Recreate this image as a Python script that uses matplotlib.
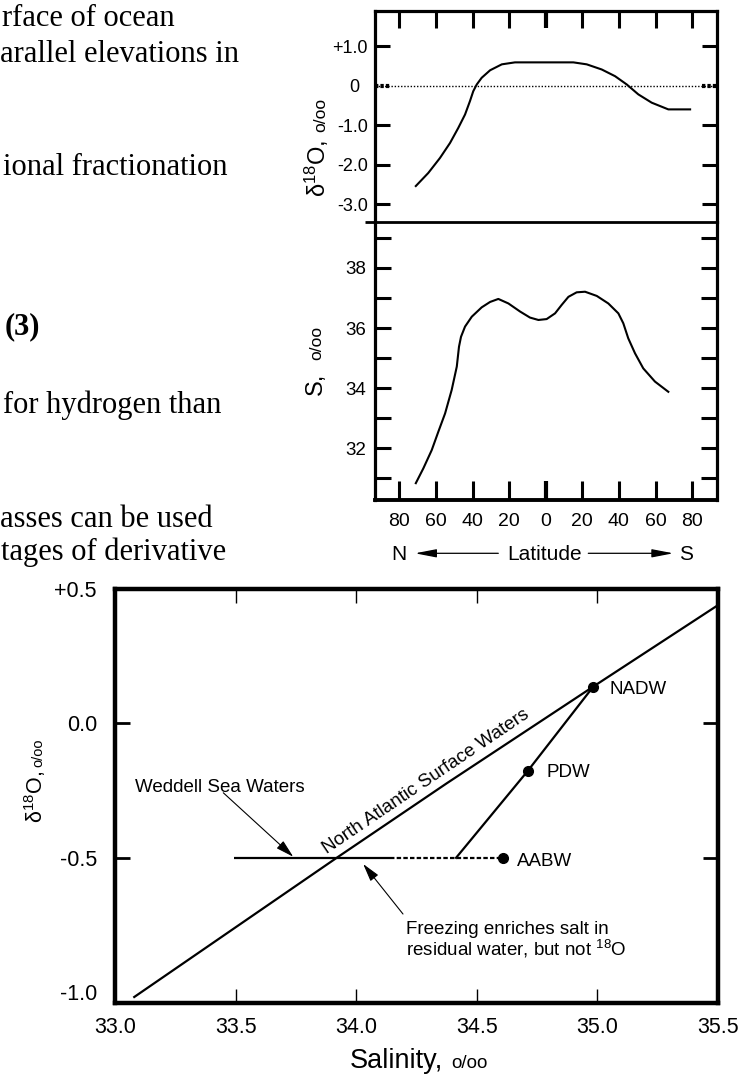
import matplotlib
matplotlib.use('Agg')
import matplotlib.pyplot as plt
import matplotlib.transforms as mtrans
import numpy as np

plt.rcParams['font.family'] = ['Liberation Sans', 'DejaVu Sans']
plt.rcParams['mathtext.fontset'] = 'custom'
plt.rcParams['mathtext.rm'] = 'Liberation Sans'
plt.rcParams['mathtext.it'] = 'Liberation Sans:italic'
plt.rcParams['mathtext.bf'] = 'Liberation Sans:bold'

# ---------------- data ----------------
# latitude: negative = North, positive = South
lat_o18 = [-71.0, -64.2, -57.8, -52.3, -47.8, -44.1, -41.4, -39.6, -37.7, -35.0,
           -30.4, -24.0, -16.8, 0.0, 15.1, 22.4, 30.6, 37.9, 44.3, 50.6,
           57.9, 67.0, 78.9]
d18o_surface = [-2.54, -2.21, -1.83, -1.45, -1.07, -0.73, -0.39, -0.14, 0.03, 0.20,
                0.39, 0.54, 0.59, 0.59, 0.59, 0.54, 0.41, 0.24, 0.03, -0.22,
                -0.43, -0.60, -0.60]

lat_sal = [-71.0, -66.9, -62.3, -58.7, -55.0, -51.4, -48.6, -47.4, -46.3, -44.1,
           -40.4, -35.0, -30.4, -25.9, -20.4, -14.0, -8.6, -4.0, 0.5, 5.1,
           8.7, 12.4, 16.9, 21.5, 27.9, 34.2, 39.7, 42.4, 45.1, 48.8,
           53.3, 59.7, 67.0]
salinity_surface = [30.84, 31.33, 31.94, 32.55, 33.16, 33.94, 34.72, 35.38, 35.71, 36.05,
                    36.38, 36.69, 36.87, 36.97, 36.82, 36.55, 36.35, 36.27, 36.30, 36.49,
                    36.77, 37.04, 37.19, 37.21, 37.07, 36.82, 36.49, 36.16, 35.66, 35.16,
                    34.66, 34.22, 33.88]

lat_ticks = [-80, -60, -40, -20, 0, 20, 40, 60, 80]
lat_tick_labels = ['80', '60', '40', '20', '0', '20', '40', '60', '80']
d18o_ticks = [1.0, 0.0, -1.0, -2.0, -3.0]
d18o_tick_labels = ['+1.0', '0', '-1.0', '-2.0', '-3.0']
sal_ticks = [31, 32, 33, 34, 35, 36, 37, 38, 39]
sal_tick_labels = ['', '32', '', '34', '', '36', '', '38', '']

# bottom panel
nasw_sal = [33.076, 33.919, 34.375, 34.983, 35.5]
nasw_d18o = [-1.02, -0.50, -0.223, 0.137, 0.44]
weddell_solid_sal = [33.495, 34.14]
weddell_dotted_sal = [34.14, 34.61]
weddell_d18o = -0.5
mix_sal = [34.414, 34.711, 34.983]
mix_d18o = [-0.5, -0.177, 0.137]
mass_names = ['NADW', 'PDW', 'AABW']
mass_sal = [34.983, 34.711, 34.61]
mass_d18o = [0.137, -0.177, -0.5]
bx_ticks = [33.0, 33.5, 34.0, 34.5, 35.0, 35.5]
bx_tick_labels = ['33.0', '33.5', '34.0', '34.5', '35.0', '35.5']
by_ticks = [-1.0, -0.5, 0.0, 0.5]
by_tick_labels = ['-1.0', '-0.5', '0.0', '+0.5']

# ---------------- figure ----------------
W, H = 742, 1074
fig = plt.figure(figsize=(W / 100, H / 100), dpi=100)


def fx(px):
    return px / W


def fy(py):
    return 1 - py / H


# left page text (serif)
page_lines = [
    (2, 26.5, 'rface of ocean', 'normal'),
    (0, 61.5, 'arallel elevations in', 'normal'),
    (3, 175, 'ional fractionation', 'normal'),
    (5, 334, '(3)', 'bold'),
    (3, 413.5, 'for hydrogen than', 'normal'),
    (0, 527, 'asses can be used', 'normal'),
    (1, 560, 'tages of derivative', 'normal'),
]
for x, y, s, wt in page_lines:
    fig.text(fx(x), fy(y), s, fontsize=22, family='Liberation Serif',
             fontweight=wt, ha='left', va='baseline')

# ---------- top panel: d18O vs latitude ----------
ax_o = fig.add_axes([fx(375), fy(222), (717 - 375) / W, (222 - 11) / H])
ax_o.plot(lat_o18, d18o_surface, color='k', lw=1.5)
ax_o.axhline(0, color='k', lw=1.0, ls=(0, (1, 1.3)))
ax_o.set_xlim(-93.3, 93.6)
ax_o.set_ylim(-3.45, 1.89)
ax_o.set_xticks(lat_ticks)
ax_o.set_yticks(d18o_ticks)
ax_o.set_yticklabels(d18o_tick_labels)
ax_o.tick_params(axis='x', direction='in', top=True, bottom=False,
                 labeltop=False, labelbottom=False, length=12, width=2.2)
ax_o.tick_params(axis='y', direction='in', left=True, right=True,
                 length=11, width=2.2, labelsize=13, pad=5)
for sp in ['left', 'right', 'top']:
    ax_o.spines[sp].set_linewidth(2.3)
ax_o.spines['bottom'].set_visible(False)
ax_o.xaxis.get_major_ticks()[4].tick2line.set_markeredgewidth(3.0)
zt = ax_o.yaxis.get_major_ticks()[1]
zt.tick1line.set_visible(False)
zt.tick2line.set_visible(False)
zt.label1.set_transform(zt.label1.get_transform() +
                        mtrans.ScaledTranslation(-0.09, 0, fig.dpi_scale_trans))
bt = mtrans.blended_transform_factory(ax_o.transAxes, ax_o.transData)
ax_o.plot([0, 0.045], [0, 0], transform=bt, color='k', lw=3, ls=(0, (0.8, 0.5)))
ax_o.plot([0.955, 1], [0, 0], transform=bt, color='k', lw=3, ls=(0, (0.8, 0.5)))

# ---------- middle panel: salinity vs latitude ----------
ax_s = fig.add_axes([fx(375), fy(500), (717 - 375) / W, (500 - 222) / H])
ax_s.plot(lat_sal, salinity_surface, color='k', lw=1.5)
ax_s.set_xlim(-93.3, 93.6)
ax_s.set_ylim(30.28, 39.53)
ax_s.set_xticks(lat_ticks)
ax_s.set_xticklabels(lat_tick_labels)
ax_s.set_yticks(sal_ticks)
ax_s.set_yticklabels(sal_tick_labels)
ax_s.tick_params(axis='x', direction='in', bottom=True, top=False,
                 length=13.5, width=2.2, labelsize=14, pad=9)
ax_s.tick_params(axis='y', direction='in', left=True, right=True,
                 length=11.5, width=2.2, labelsize=13.5, pad=6.5)
for sp in ['left', 'right']:
    ax_s.spines[sp].set_linewidth(2.3)
ax_s.spines['bottom'].set_linewidth(2.8)
ax_s.spines['top'].set_visible(False)
ax_s.xaxis.get_major_ticks()[4].tick1line.set_markeredgewidth(3.0)
# divider between the two panels
ax_s.plot([-10 / 342, 1.0], [1, 1], transform=ax_s.transAxes, color='k',
          lw=2.0, clip_on=False, solid_capstyle='butt')

# y labels of top panels
fig.text(fx(326), fy(197), 'δ$^{18}$O,', fontsize=17, rotation=90,
         rotation_mode='anchor', ha='left', va='baseline')
fig.text(fx(325), fy(131.7), 'o/oo', fontsize=12.5, rotation=90,
         rotation_mode='anchor', ha='left', va='baseline')
fig.text(fx(321.7), fy(395), 'S,', fontsize=17, rotation=90,
         rotation_mode='anchor', ha='left', va='baseline')
fig.text(fx(321.7), fy(360), 'o/oo', fontsize=12.5, rotation=90,
         rotation_mode='anchor', ha='left', va='baseline')

# N <- Latitude -> S
fig.text(fx(398.7), fy(560), 'N', fontsize=15, ha='center', va='baseline')
fig.text(fx(545), fy(560), 'Latitude', fontsize=15, ha='center', va='baseline')
fig.text(fx(686), fy(560), 'S', fontsize=15, ha='center', va='baseline')
arr = dict(arrowstyle='-|>,head_length=1.3,head_width=0.25', mutation_scale=10,
           lw=0.9, color='k', shrinkA=0, shrinkB=0)
fig.add_artist(matplotlib.patches.FancyArrowPatch(
    (fx(498.3), fy(553.3)), (fx(415), fy(553.3)), transform=fig.transFigure, **arr))
fig.add_artist(matplotlib.patches.FancyArrowPatch(
    (fx(588.3), fy(553.3)), (fx(673.3), fy(553.3)), transform=fig.transFigure, **arr))

# ---------- bottom panel: d18O vs salinity ----------
ax_b = fig.add_axes([fx(115), fy(1003), (718 - 115) / W, (1003 - 589) / H])
ax_b.set_xlim(33.0, 35.5)
ax_b.set_ylim(-1.04, 0.5)
ax_b.plot(nasw_sal, nasw_d18o, color='k', lw=1.6, solid_capstyle='butt')
ax_b.plot(weddell_solid_sal, [weddell_d18o] * 2, color='k', lw=1.6,
          solid_capstyle='butt')
ax_b.plot(weddell_dotted_sal, [weddell_d18o] * 2, color='k', lw=1.6,
          ls=(0, (2, 1)))
ax_b.plot(mix_sal, mix_d18o, color='k', lw=1.6)
ax_b.plot(mass_sal, mass_d18o, 'o', color='k', ms=7, ls='none')

ax_b.set_xticks(bx_ticks)
ax_b.set_xticklabels(bx_tick_labels)
ax_b.set_yticks(by_ticks)
ax_b.set_yticklabels(by_tick_labels)
ax_b.tick_params(axis='x', direction='in', bottom=True, top=True,
                 length=10, width=1.0, labelsize=15.5, pad=10)
ax_b.tick_params(axis='y', direction='in', left=True, right=True,
                 length=10.5, width=2.0, labelsize=15.5, pad=13)
for sp in ax_b.spines.values():
    sp.set_linewidth(3.2)
t0 = ax_b.yaxis.get_major_ticks()[0]
t0.tick1line.set_visible(False)
t0.tick2line.set_visible(False)

# water-mass labels
label_pos = {'NADW': (35.052, 0.109), 'PDW': (34.790, -0.198),
             'AABW': (34.665, -0.532)}
for name in mass_names:
    x, y = label_pos[name]
    ax_b.text(x, y, name, fontsize=13.5, ha='left', va='baseline')

# North Atlantic Surface Waters label along the line
p1 = ax_b.transData.transform((nasw_sal[0], nasw_d18o[0]))
p2 = ax_b.transData.transform((nasw_sal[3], nasw_d18o[3]))
ang = np.degrees(np.arctan2(p2[1] - p1[1], p2[0] - p1[0]))
ax_b.text(34.289, -0.218, 'North Atlantic Surface Waters', fontsize=13.5,
          rotation=ang, rotation_mode='anchor', ha='center', va='center')

# Weddell Sea label + arrow
ax_b.text(33.083, -0.254, 'Weddell Sea Waters', fontsize=13.5,
          ha='left', va='baseline')
small_arr = dict(arrowstyle='-|>,head_length=1.1,head_width=0.3',
                 mutation_scale=10, lw=0.8, color='k', shrinkA=0, shrinkB=0)
ax_b.annotate('', xy=(33.739, -0.496), xytext=(33.449, -0.258),
              arrowprops=small_arr)

# Freezing label + arrow
ax_b.text(34.2065, -0.7835, 'Freezing enriches salt in', fontsize=13.5,
          ha='left', va='baseline')
ax_b.text(34.2065, -0.8635, 'residual water, but not $^{18}$O', fontsize=13.5,
          ha='left', va='baseline')
ax_b.annotate('', xy=(34.029, -0.523), xytext=(34.194, -0.709),
              arrowprops=small_arr)

# axis labels of bottom panel
fig.text(fx(350), fy(1068), 'Salinity,', fontsize=19.5, ha='left', va='baseline')
fig.text(fx(451.7), fy(1068), 'o/oo', fontsize=13.5, ha='left', va='baseline')
fig.text(fx(42.5), fy(823), 'δ$^{18}$O,', fontsize=15.5, rotation=90,
         rotation_mode='anchor', ha='left', va='baseline')
fig.text(fx(42.5), fy(767), 'o/oo', fontsize=10.5, rotation=90,
         rotation_mode='anchor', ha='left', va='baseline')

fig.savefig('out.png', dpi=100)
